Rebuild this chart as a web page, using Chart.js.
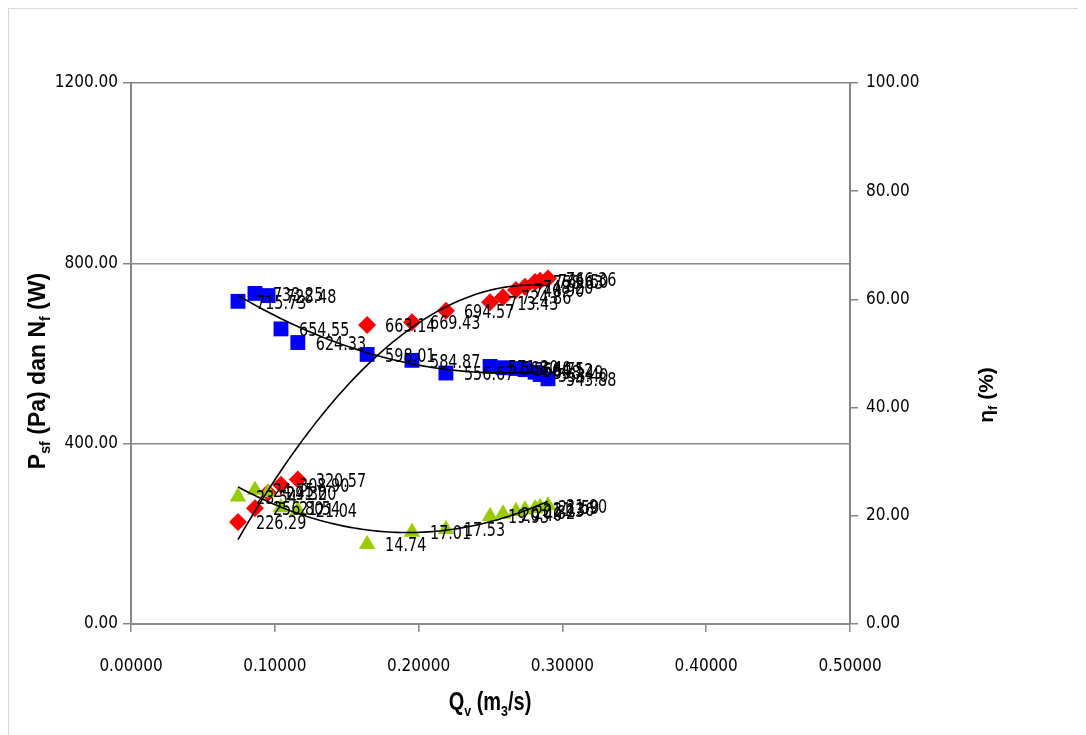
<!DOCTYPE html>
<html lang="id">
<head>
<meta charset="UTF-8">
<title>Psf, Nf dan efisiensi terhadap Qv</title>
<script src="https://cdn.jsdelivr.net/npm/chart.js@4.4.0/dist/chart.umd.min.js"></script>
<style>
  body { margin: 8px; background: #fff; }
  #wrap { width: 1069px; height: 726px; border: 1px solid #d9d9d9; }
</style>
</head>
<body>
<div id="wrap"><canvas id="myChart" width="1069" height="726"></canvas></div>

<script>
// debit Qv (m3/s)
var qv = [0.0744, 0.0862, 0.0953, 0.1043, 0.1160, 0.1642, 0.1954, 0.2190,
          0.2497, 0.2587, 0.2677, 0.2740, 0.2810, 0.2845, 0.2900];
// tekanan statis fan Psf (Pa)
var psf = [715.73, 733.25, 728.48, 654.55, 624.33, 598.01, 584.87, 556.67,
           571.30, 568.40, 566.75, 564.12, 558.49, 553.40, 543.88];
// daya fan Nf (W)
var nf = [226.29, 256.80, 291.20, 308.90, 320.57, 663.14, 669.43, 694.57,
          713.43, 724.86, 740.90, 748.20, 758.63, 761.50, 766.36];
// efisiensi fan (%)
var eff = [23.54, 24.75, 24.30, 21.54, 21.04, 14.74, 17.01, 17.53,
           19.93, 20.40, 20.82, 21.13, 21.36, 21.59, 21.90];

var condensed = '"DejaVu Sans Condensed", "DejaVu Sans", sans-serif';
var tickFont = { family: condensed, size: 17 };
var axisGray = '#868686';

function pts(xs, ys) {
  return xs.map(function(x, i) { return { x: x, y: ys[i] }; });
}

// kuadrat terkecil polinomial (seperti trendline Excel)
function polyFit(xs, ys, deg) {
  var n = deg + 1, A = [], b = [], i, j, c, k;
  for (i = 0; i < n; i++) {
    A.push([]);
    for (c = 0; c < n; c++) {
      var s = 0;
      for (k = 0; k < xs.length; k++) s += Math.pow(xs[k], i + c);
      A[i].push(s);
    }
    var t = 0;
    for (k = 0; k < xs.length; k++) t += ys[k] * Math.pow(xs[k], i);
    b.push(t);
  }
  for (i = 0; i < n; i++) {
    var p = i;
    for (j = i + 1; j < n; j++) if (Math.abs(A[j][i]) > Math.abs(A[p][i])) p = j;
    var tmp = A[i]; A[i] = A[p]; A[p] = tmp;
    tmp = b[i]; b[i] = b[p]; b[p] = tmp;
    for (j = i + 1; j < n; j++) {
      var f = A[j][i] / A[i][i];
      for (c = i; c < n; c++) A[j][c] -= f * A[i][c];
      b[j] -= f * b[i];
    }
  }
  var coef = new Array(n);
  for (i = n - 1; i >= 0; i--) {
    var r = b[i];
    for (c = i + 1; c < n; c++) r -= A[i][c] * coef[c];
    coef[i] = r / A[i][i];
  }
  return coef;
}

function trend(xs, ys, deg) {
  var c = polyFit(xs, ys, deg);
  var lo = Math.min.apply(null, xs), hi = Math.max.apply(null, xs), out = [];
  for (var i = 0; i <= 80; i++) {
    var x = lo + (hi - lo) * i / 80, y = 0;
    for (var k = 0; k < c.length; k++) y += c[k] * Math.pow(x, k);
    out.push({ x: x, y: y });
  }
  return out;
}

// label nilai di kanan tiap titik (huruf dipersempit)
var valueLabels = {
  id: 'valueLabels',
  afterDatasetsDraw: function(chart) {
    var ctx = chart.ctx;
    chart.data.datasets.forEach(function(ds, i) {
      if (!ds.showLabels) return;
      chart.getDatasetMeta(i).data.forEach(function(el, j) {
        ctx.save();
        ctx.font = '20px ' + condensed;
        ctx.fillStyle = '#000';
        ctx.textBaseline = 'middle';
        ctx.translate(el.x + 18, el.y + 2);
        ctx.scale(0.8, 1);
        ctx.fillText(ds.data[j].y.toFixed(2), 0, 0);
        ctx.restore();
      });
    });
  }
};

// judul sumbu dengan subscript
function richText(ctx, parts, cx, cy, angle, size, family, stretch) {
  ctx.save();
  ctx.translate(cx, cy);
  ctx.rotate(angle);
  ctx.scale(stretch, 1);
  ctx.fillStyle = '#000';
  ctx.textBaseline = 'alphabetic';
  var total = 0;
  parts.forEach(function(p) {
    ctx.font = 'bold ' + (p[1] ? size * 0.62 : size) + 'px ' + family;
    total += ctx.measureText(p[0]).width;
  });
  var x = -total / 2;
  parts.forEach(function(p) {
    ctx.font = 'bold ' + (p[1] ? size * 0.62 : size) + 'px ' + family;
    ctx.fillText(p[0], x, size * 0.36 + (p[1] ? size * 0.22 : 0));
    x += ctx.measureText(p[0]).width;
  });
  ctx.restore();
}

var axisTitles = {
  id: 'axisTitles',
  afterDraw: function(chart) {
    var ctx = chart.ctx;
    var fam = '"Liberation Sans", Arial, sans-serif';
    richText(ctx, [['P', 0], ['sf', 1], [' (Pa) dan N', 0], ['f', 1], [' (W)', 0]], 28, 362, -Math.PI / 2, 23, fam, 1);
    richText(ctx, [['\u03B7', 0], ['f', 1], [' (%)', 0]], 976, 386, -Math.PI / 2, 21, fam, 1);
    richText(ctx, [['Q', 0], ['v', 1], [' (m', 0], ['3', 1], ['/s)', 0]], 481, 692, 0, 25, fam, 0.8);
  }
};

var ctx = document.getElementById('myChart').getContext('2d');
var myChart = new Chart(ctx, {
  type: 'scatter',
  data: {
    datasets: [
      { type: 'line', data: trend(qv, psf, 2), borderColor: '#000', borderWidth: 1.6, pointRadius: 0, fill: false, yAxisID: 'y', order: 0 },
      { type: 'line', data: trend(qv, nf, 2), borderColor: '#000', borderWidth: 1.6, pointRadius: 0, fill: false, yAxisID: 'y', order: 0 },
      { type: 'line', data: trend(qv, eff, 2), borderColor: '#000', borderWidth: 1.6, pointRadius: 0, fill: false, yAxisID: 'y2', order: 0 },
      { label: 'Psf', data: pts(qv, psf), pointStyle: 'rect', pointRadius: 10.5, backgroundColor: '#0000ff', borderColor: '#0000ff', borderWidth: 0, yAxisID: 'y', showLabels: true, order: 3 },
      { label: 'Nf', data: pts(qv, nf), pointStyle: 'rectRot', pointRadius: 9, backgroundColor: '#ff0000', borderColor: '#ff0000', borderWidth: 0, yAxisID: 'y', showLabels: true, order: 2 },
      { label: 'eff', data: pts(qv, eff), pointStyle: 'triangle', pointRadius: 9.5, backgroundColor: '#99cc00', borderColor: '#99cc00', borderWidth: 0, yAxisID: 'y2', showLabels: true, order: 1 }
    ]
  },
  options: {
    responsive: false,
    animation: false,
    layout: { padding: { top: 74, left: 0, right: 0, bottom: 0 } },
    plugins: { legend: { display: false }, tooltip: { enabled: false } },
    scales: {
      x: {
        type: 'linear', min: 0, max: 0.5,
        ticks: { stepSize: 0.1, color: '#000', font: tickFont, padding: 24, maxRotation: 0,
                 callback: function(v) { return v.toFixed(5); } },
        grid: { drawOnChartArea: false, tickLength: 8, color: axisGray, lineWidth: 1.5 },
        border: { color: axisGray, width: 2 },
        afterFit: function(s) { s.height = 111; }
      },
      y: {
        position: 'left', min: 0, max: 1200,
        ticks: { stepSize: 400, color: '#000', font: tickFont, padding: 5,
                 callback: function(v) { return v.toFixed(2); } },
        grid: { tickLength: 8, color: axisGray, lineWidth: 1.5 },
        border: { color: axisGray, width: 2 },
        afterFit: function(s) { s.width = 122; }
      },
      y2: {
        position: 'right', min: 0, max: 100,
        ticks: { stepSize: 20, color: '#000', font: tickFont, padding: 8,
                 callback: function(v) { return v.toFixed(2); } },
        grid: { drawOnChartArea: false, tickLength: 8, color: axisGray, lineWidth: 1.5 },
        border: { color: axisGray, width: 2 },
        afterFit: function(s) { s.width = 228; }
      }
    }
  },
  plugins: [valueLabels, axisTitles]
});
</script>
</body>
</html>
